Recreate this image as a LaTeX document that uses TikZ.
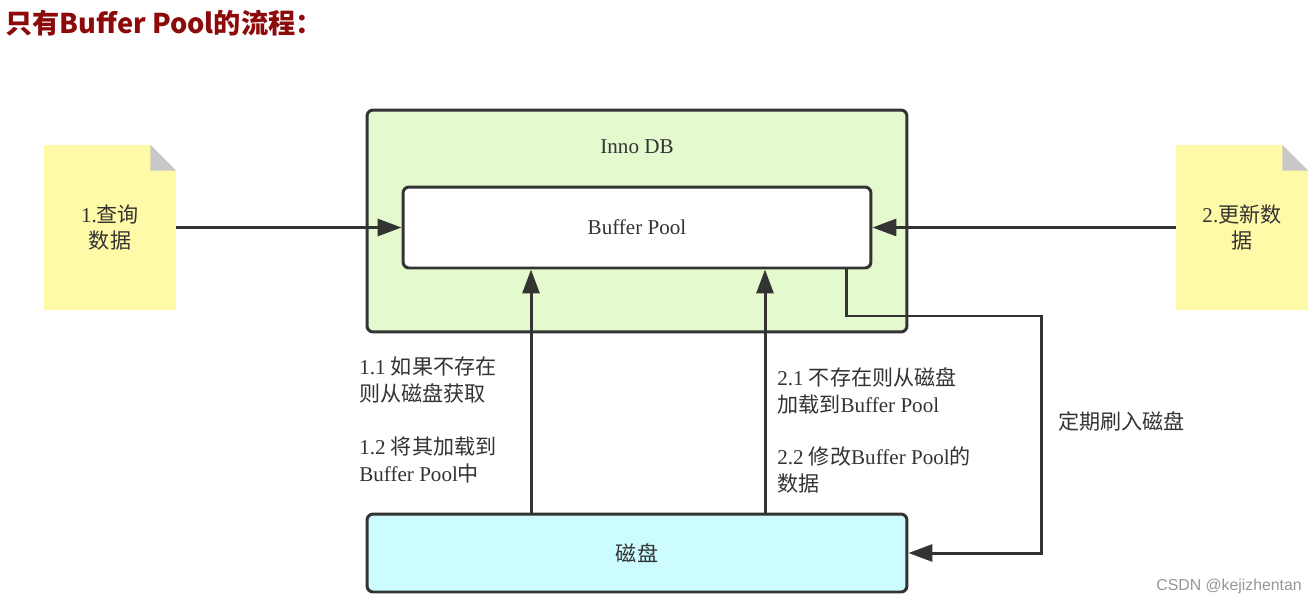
\documentclass[tikz,border=0pt]{standalone}
\usepackage{fontspec}
\setmainfont{Liberation Serif}
\newfontfamily\cjk{Noto Sans CJK SC}
\newfontfamily\wmfont{Liberation Sans}
\usetikzlibrary{arrows.meta}
\definecolor{notey}{RGB}{255,250,168}
\definecolor{foldg}{RGB}{200,200,200}
\definecolor{innog}{RGB}{229,249,206}
\definecolor{diskc}{RGB}{204,252,255}
\definecolor{linec}{RGB}{51,51,51}
\definecolor{titler}{RGB}{140,10,10}
\definecolor{wmgray}{RGB}{150,150,150}

\begin{document}
\begin{tikzpicture}[x=0.02cm,y=-0.02cm]

                \tikzset{note/.style = {fill=notey,minimum width=2.64cm,minimum height=3.3cm,align=center,inner sep=0pt,text=linec,font={\fontsize{12}{15}\selectfont}}}
                \tikzset{box/.style = {draw=linec,line width=1.7pt,rounded corners=0.12cm}}
                \tikzset{lbl/.style = {inner sep=0pt,align=left,text=linec,font={\fontsize{12}{15.3}\selectfont}}}
                \tikzset{edge/.style = {-{Triangle[length=0.48cm,width=0.34cm]},draw=linec,line width=1.7pt}}
                \useasboundingbox (0,0) rectangle (1315,605);
                \node[anchor=west,inner sep=0pt,text=titler,font={\fontsize{15.5}{18}\selectfont}] (title) at (5,23) {\cjk\bfseries 只有Buffer Pool的流程：};
                \node[note] (qnote) at (110,227.5) {1.{\cjk 查询}\\{\cjk 数据}};
                \fill[white] (qnote.north east) -- ++(-26,0) -- ++(26,26) -- cycle;
                \fill[foldg] (qnote.north east) ++(-26,0) -- ++(26,26) -- ++(-26,0) -- cycle;
                \node[note] (unote) at (1242,227.5) {2.{\cjk 更新数}\\{\cjk 据}};
                \fill[white] (unote.north east) -- ++(-26,0) -- ++(26,26) -- cycle;
                \fill[foldg] (unote.north east) ++(-26,0) -- ++(26,26) -- ++(-26,0) -- cycle;
                \node[box,fill=innog,minimum width=10.8cm,minimum height=4.44cm] (inno) at (637,221) {};
                \node[lbl] (innotxt) at (637,147) {Inno DB};
                \node[box,fill=white,minimum width=9.36cm,minimum height=1.62cm,lbl] (buf) at (637,227.5) {Buffer Pool};
                \node[box,fill=diskc,minimum width=10.8cm,minimum height=1.56cm,lbl] (disk) at (637,553) {\cjk 磁盘};
                \coordinate (up1) at (531,0);
                \coordinate (up2) at (765,0);
                \coordinate (flush) at (846,0);
                \coordinate (turn) at (1041,316);
                \draw[edge] (qnote.east) -- (buf.west);
                \draw[edge] (unote.west) -- (buf.east);
                \draw[edge] (disk.north -| up1) -- (buf.south -| up1);
                \draw[edge] (disk.north -| up2) -- (buf.south -| up2);
                \draw[edge] (buf.south -| flush) |- (turn) |- (disk.east);
                \node[lbl,anchor=west] (l11) at (359,380) {1.1 {\cjk 如果不存在}\\{\cjk 则从磁盘获取}};
                \node[lbl,anchor=west] (l12) at (359,460) {1.2 {\cjk 将其加载到}\\Buffer Pool{\cjk 中}};
                \node[lbl,anchor=west] (l21) at (777,391) {2.1 {\cjk 不存在则从磁盘}\\{\cjk 加载到}Buffer Pool};
                \node[lbl,anchor=west] (l22) at (777,470) {2.2 {\cjk 修改}Buffer Pool{\cjk 的}\\{\cjk 数据}};
                \node[lbl,anchor=west] (lflush) at (1058,421) {\cjk 定期刷入磁盘};
                \node[anchor=east,inner sep=0pt,text=wmgray,font={\wmfont\fontsize{9}{11}\selectfont}] (mark) at (1302,586) {CSDN @kejizhentan};
            \end{tikzpicture}
\end{document}
